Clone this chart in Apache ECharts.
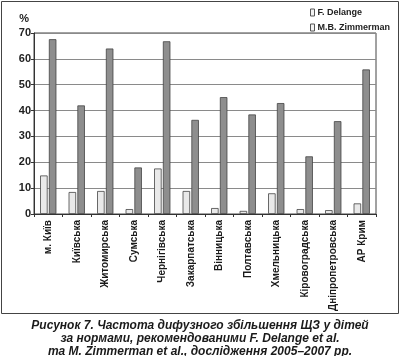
<!DOCTYPE html>
<html><head><meta charset="utf-8">
<script src="https://cdn.jsdelivr.net/npm/echarts@6/dist/echarts.min.js"></script>
<style>html,body{margin:0;padding:0;background:#fff}#c{width:400px;height:356px}</style>
</head><body><div id="c"></div>
<script>
const categories = ['м. Київ','Київська','Житомирська','Сумська','Чернігівська','Закарпатська','Вінницька','Полтавська','Хмельницька','Кіровоградська','Дніпропетровська','АР Крим'];
const delange = [14.9, 8.5, 8.9, 1.9, 17.6, 8.9, 2.3, 1.2, 8.0, 1.9, 1.5, 4.1];
const zimmerman = [67.6, 42.0, 64.0, 18.0, 66.8, 36.4, 45.2, 38.5, 42.9, 22.3, 35.9, 55.9];
const seriesNames = ['F. Delange', 'M.B. Zimmerman'];
const captionLines = ['Рисунок 7. Частота дифузного збільшення ЩЗ у дітей', 'за нормами, рекомендованими F. Delange et al.', 'та M. Zimmerman et al., дослідження 2005–2007 рр.'];

const FONT = '"Liberation Sans", Arial, sans-serif';
const chart = echarts.init(document.getElementById('c'), null, {renderer: 'canvas'});
chart.setOption({
  animation: false,
  backgroundColor: '#fff',
  grid: {left: 34, right: 24, top: 33, bottom: 142, show: true, borderColor: '#444', borderWidth: 1},
  legend: {
    left: 305, top: 3, orient: 'vertical', itemWidth: 4, itemHeight: 7, itemGap: 6,
    icon: 'rect',
    textStyle: {fontFamily: FONT, fontWeight: 'bold', fontSize: 9, color: '#222', padding: [0,0,0,-2]},
    data: seriesNames.map(n => ({name: n, itemStyle: {color: '#f2f2f2', borderColor: '#555', borderWidth: 1}}))
  },
  xAxis: {
    type: 'category', data: categories,
    axisLine: {lineStyle: {color: '#333', width: 1}},
    axisTick: {show: true, length: 3, lineStyle: {color: '#333'}},
    axisLabel: {rotate: 90, interval: 0, fontFamily: FONT, fontWeight: 'bold', fontSize: 10, color: '#1a1a1a', margin: 6}
  },
  yAxis: {
    type: 'value', min: 0, max: 70, interval: 10,
    name: '%', nameLocation: 'end', nameGap: 9,
    nameTextStyle: {fontFamily: FONT, fontWeight: 'bold', fontSize: 11, color: '#222', align: 'right', padding: [0, 5, 0, 0]},
    axisLine: {show: true, lineStyle: {color: '#333'}},
    axisTick: {show: true, length: 3, lineStyle: {color: '#333'}},
    axisLabel: {fontFamily: FONT, fontWeight: 'bold', fontSize: 11, color: '#222', margin: 3},
    splitLine: {lineStyle: {color: '#8a8a8a', width: 1}}
  },
  series: [
    {name: seriesNames[0], type: 'bar', data: delange, barWidth: 7.5, barGap: '17%',
     itemStyle: {color: '#e9e9e9', borderColor: '#444', borderWidth: 0.8}},
    {name: seriesNames[1], type: 'bar', data: zimmerman, barWidth: 7.5,
     itemStyle: {color: '#8e8e8e', borderColor: '#444', borderWidth: 0.8}}
  ],
  graphic: [
    {type: 'rect', shape: {x: 1.5, y: 1.5, width: 397, height: 312}, style: {fill: null, stroke: '#444', lineWidth: 1}, silent: true},
    ...captionLines.map((t, i) => ({
      type: 'text', left: 'center', top: 320 + i * 13,
      style: {text: t, font: 'italic bold 12px ' + FONT, fill: '#1a1a1a'}
    }))
  ]
});
</script></body></html>
